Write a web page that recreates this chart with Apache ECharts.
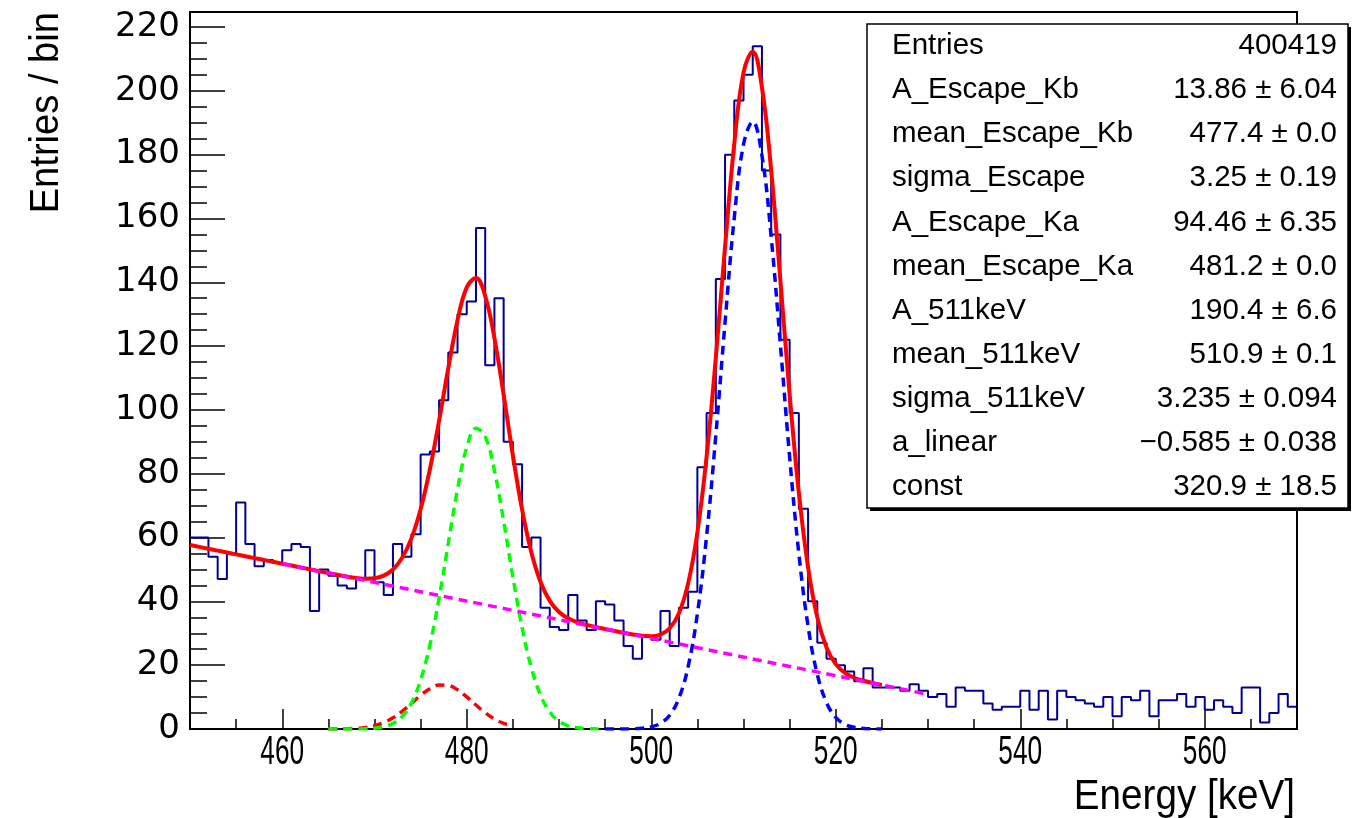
<!DOCTYPE html>
<html><head><meta charset="utf-8">
<script src="https://cdn.jsdelivr.net/npm/echarts@6/dist/echarts.min.js"></script>
<style>html,body{margin:0;padding:0;background:#fff}#c{width:1353px;height:818px}</style>
</head><body><div id="c"></div>
<script>
// ---- histogram (1 keV bins from 450 to 570) ----
const binLow = 450;
const binWidth = 1;
const counts = [
  60, 60, 54, 47, 55, 71, 58, 51, 53, 52,
  56, 58, 57, 37, 50, 48, 45, 44, 47, 56,
  46, 42, 58, 54, 61, 86, 87, 103, 118, 130,
  134, 157, 114, 135, 90, 83, 57, 60, 38, 32,
  31, 42, 34, 31, 40, 39, 34, 26, 22, 29,
  28, 37, 26, 38, 43, 82, 99, 141, 180, 197,
  205, 214, 175, 155, 122, 99, 69, 40, 27, 22,
  20, 18, 15, 19, 13, 13, 13, 12, 14, 12,
  10, 11, 7, 13, 12, 12, 8, 6, 7, 7,
  12, 6, 12, 3, 12, 10, 9, 8, 7, 10,
  4, 10, 9, 12, 4, 9, 9, 11, 7, 10,
  6, 9, 7, 5, 13, 13, 2, 5, 11, 7
];

// ---- fitted curves at 1 keV steps ----
const totalStart = 450;
const totalFit = [
  57.65, 57.07, 56.48, 55.90, 55.31, 54.73, 54.14, 53.56, 52.97, 52.39,
  51.80, 51.22, 50.63, 50.05, 49.46, 48.89, 48.32, 47.79, 47.36, 47.11,
  47.24, 48.05, 49.99, 53.66, 59.75, 68.89, 81.33, 96.60, 113.08, 128.08,
  138.40, 141.30, 135.67, 122.52, 104.70, 85.76, 68.75, 55.40, 46.07, 40.16,
  36.67, 34.67, 33.46, 32.63, 31.95, 31.34, 30.75, 30.17, 29.64, 29.20,
  29.05, 29.58, 31.56, 36.30, 45.64, 61.57, 85.36, 116.37, 151.12, 183.38,
  205.72, 212.28, 201.09, 175.03, 140.51, 104.91, 73.99, 50.65, 34.99, 25.57,
  20.34, 17.57, 16.06, 15.12, 14.41, 13.79
];
const kbStart = 465;
const kbFit = [
  0.01, 0.03, 0.08, 0.21, 0.49, 1.04, 1.99, 3.49, 5.54, 8.02,
  10.55, 12.63, 13.76, 13.63, 12.28, 10.06, 7.51, 5.09, 3.14, 1.76, 0.90
];
const kaStart = 465;
const kaFit = [
  0.00, 0.00, 0.01, 0.03, 0.08, 0.25, 0.69, 1.72, 3.92, 8.12,
  15.31, 26.26, 40.99, 58.18, 75.12, 88.24, 94.28, 91.65, 81.03, 65.18,
  47.68, 31.74, 19.22, 10.58, 5.30, 2.42, 1.00, 0.38, 0.13, 0.04, 0.01
];
const peakStart = 495;
const peakFit = [
  0.00, 0.00, 0.02, 0.07, 0.22, 0.65, 1.76, 4.33, 9.65, 19.58,
  36.09, 60.47, 92.06, 127.40, 160.24, 183.17, 190.31, 179.71, 154.23, 120.30,
  85.28, 54.95, 32.19, 17.12, 8.28, 3.64, 1.46, 0.53, 0.17, 0.05, 0.01
];
const bkgX = [460, 530];
const bkgY = [51.80, 10.85];

// ---- axes ----
const xMin = 450, xMax = 570;
const xTickLabels = [460, 480, 500, 520, 540, 560];
const yMin = 0, yMax = 224.7, yStep = 20;
const xTitle = 'Energy [keV]';
const yTitle = 'Entries / bin';

// ---- statistics box ----
const statNames = ['Entries', 'A_Escape_Kb', 'mean_Escape_Kb', 'sigma_Escape', 'A_Escape_Ka',
  'mean_Escape_Ka', 'A_511keV', 'mean_511keV', 'sigma_511keV', 'a_linear', 'const'];
const statValues = ['400419', '13.86 \u00b1 6.04', '477.4 \u00b1 0.0', '3.25 \u00b1 0.19', '94.46 \u00b1 6.35',
  '481.2 \u00b1 0.0', '190.4 \u00b1 6.6', '510.9 \u00b1 0.1', '3.235 \u00b1 0.094', '\u22120.585 \u00b1 0.038', '320.9 \u00b1 18.5'];

const HELV = '"Liberation Sans", Arial, Helvetica, sans-serif';
const WIDE = '"DejaVu Sans", "Liberation Sans", sans-serif';

const pts = (start, arr) => arr.map((v, i) => [start + i, v]);
const histPts = counts.map((v, i) => [binLow + i * binWidth, v]);
histPts.push([binLow + counts.length * binWidth, counts[counts.length - 1]]);

const dashed = (name, color, data) => ({
  name, type: 'line', data, symbol: 'none', smooth: 0.4, silent: true,
  lineStyle: { color, width: 3.5, type: [9, 6], cap: 'butt' }, z: 4
});

const box = { x: 867, y: 24, w: 481, h: 484 };
const rowH = 44.1;
const statGraphics = [
  { type: 'rect', shape: { x: box.x + 3, y: box.y + 3, width: box.w, height: box.h }, style: { fill: '#000' }, z: 100 },
  { type: 'rect', shape: { x: box.x, y: box.y, width: box.w, height: box.h }, style: { fill: '#fff', stroke: '#000', lineWidth: 1.5 }, z: 101 }
];
statNames.forEach((n, i) => {
  const cy = box.y + 22 + rowH * i;
  statGraphics.push({ type: 'text', x: box.x + 25, y: cy, z: 102,
    style: { text: n, fontFamily: HELV, fontSize: 29.5, fill: '#000', align: 'left', verticalAlign: 'middle' } });
  statGraphics.push({ type: 'text', x: box.x + box.w - 11, y: cy, z: 102,
    style: { text: statValues[i], fontFamily: HELV, fontSize: 29.5, fill: '#000', align: 'right', verticalAlign: 'middle' } });
});

const chart = echarts.init(document.getElementById('c'), null, { renderer: 'canvas' });
chart.setOption({
  animation: false,
  backgroundColor: '#fff',
  grid: { left: 190, right: 56, top: 12, bottom: 89, show: true, borderColor: '#000', borderWidth: 2,
          containLabel: false, outerBoundsMode: 'none' },
  xAxis: {
    type: 'value', min: xMin, max: xMax, splitNumber: 6,
    axisLine: { show: true, onZero: false, lineStyle: { color: '#000', width: 2 } },
    axisTick: { show: true, inside: true, length: 20, lineStyle: { color: '#000', width: 1.5 } },
    minorTick: { show: true, splitNumber: 4, length: 10, lineStyle: { color: '#000', width: 1.5 } },
    splitLine: { show: false }, minorSplitLine: { show: false },
    axisLabel: { show: false }
  },
  yAxis: {
    type: 'value', min: yMin, max: yMax, interval: yStep,
    axisLine: { show: true, onZero: false, lineStyle: { color: '#000', width: 2 } },
    axisTick: { show: true, inside: true, length: 35, lineStyle: { color: '#000', width: 1.5 } },
    minorTick: { show: true, splitNumber: 4, length: 17, lineStyle: { color: '#000', width: 1.5 } },
    splitLine: { show: false }, minorSplitLine: { show: false },
    axisLabel: { show: true, margin: 10, color: '#000', fontFamily: WIDE, fontSize: 34,
      formatter: v => (v % yStep === 0) ? String(v) : '' }
  },
  series: [
    { name: 'hist', type: 'line', step: 'end', data: histPts, symbol: 'none', silent: true,
      lineStyle: { color: '#000099', width: 2 }, z: 2 },
    { name: 'total', type: 'line', data: pts(totalStart, totalFit), symbol: 'none', smooth: 0.4, silent: true,
      lineStyle: { color: '#ff0000', width: 4 }, z: 3 },
    dashed('Kb', '#ff0000', pts(kbStart, kbFit)),
    dashed('Ka', '#00ff00', pts(kaStart, kaFit)),
    dashed('511', '#0000ff', pts(peakStart, peakFit)),
    dashed('bkg', '#ff00ff', bkgX.map((x, i) => [x, bkgY[i]]))
  ]
});

// condensed x tick labels placed at the axis positions of their values
const xLabelGraphics = xTickLabels.map(v => {
  const p = chart.convertToPixel({ xAxisIndex: 0, yAxisIndex: 0 }, [v, yMin]);
  return { type: 'text', x: p[0], y: p[1] + 24, scaleX: 0.64, z: 50,
    style: { text: String(v), fontFamily: HELV, fontSize: 41, fill: '#000', align: 'center', verticalAlign: 'middle' } };
});

chart.setOption({
  graphic: [
    { type: 'text', x: 1295, y: 797, scaleX: 0.92, z: 50,
      style: { text: xTitle, fontFamily: HELV, fontSize: 42, fill: '#000', align: 'right', verticalAlign: 'middle' } },
    { type: 'text', x: 47, y: 12, rotation: Math.PI / 2, scaleX: 0.93, z: 50,
      style: { text: yTitle, fontFamily: HELV, fontSize: 41, fill: '#000', align: 'right', verticalAlign: 'middle' } },
    ...xLabelGraphics,
    ...statGraphics
  ]
});
</script>
</body></html>
